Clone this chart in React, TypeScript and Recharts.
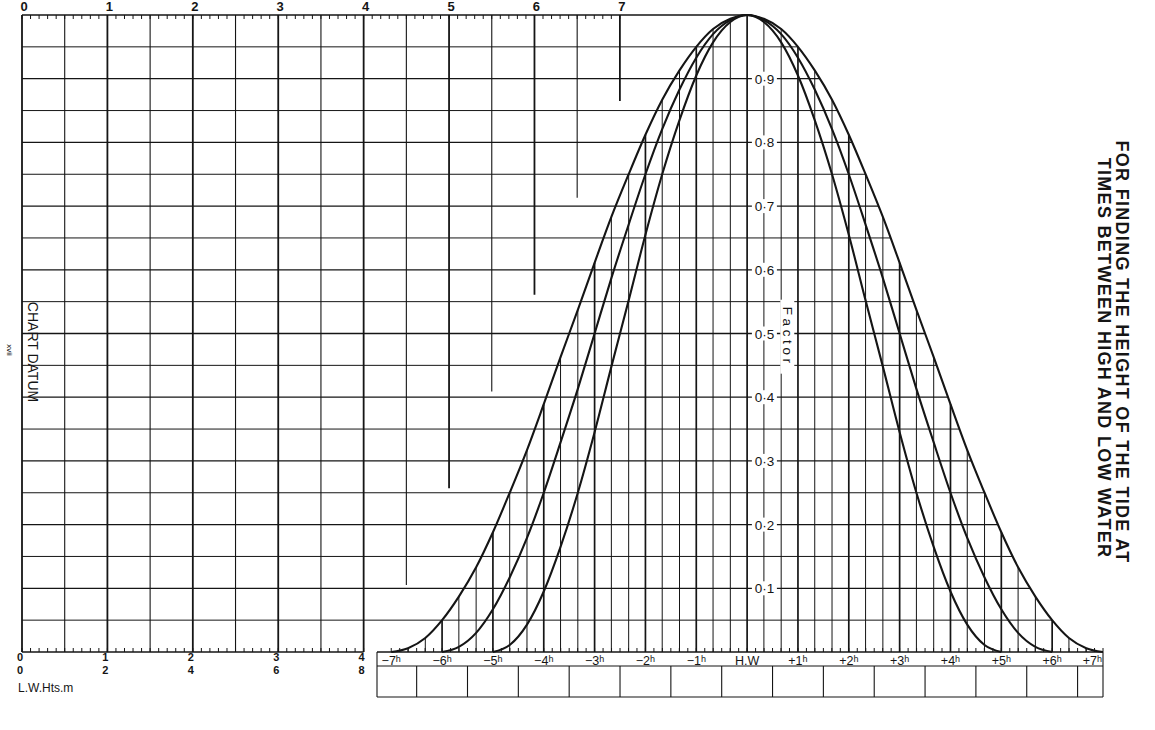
import { ComposedChart, Line, Scatter, XAxis, YAxis, ReferenceLine } from "recharts";

// hours from high water, sampled every 20 minutes
const hours = [
  -7, -6.67, -6.33, -6, -5.67, -5.33, -5, -4.67, -4.33, -4, -3.67, -3.33, -3, -2.67, -2.33, -2, -1.67, -1.33, -1, -0.67, -0.33,
  0,
  0.33, 0.67, 1, 1.33, 1.67, 2, 2.33, 2.67, 3, 3.33, 3.67, 4, 4.33, 4.67, 5, 5.33, 5.67, 6, 6.33, 6.67, 7,
];

// factor (7h, 6h and 5h duration)
const sevenHour = [
  0, 0.006, 0.022, 0.05, 0.087, 0.133, 0.188, 0.25, 0.317, 0.389, 0.463, 0.537, 0.611, 0.683, 0.75, 0.812, 0.867, 0.913, 0.95, 0.978, 0.994,
  1,
  0.994, 0.978, 0.95, 0.913, 0.867, 0.812, 0.75, 0.683, 0.611, 0.537, 0.463, 0.389, 0.317, 0.25, 0.188, 0.133, 0.087, 0.05, 0.022, 0.006, 0,
];
const sixHour = [
  null, null, null, 0, 0.008, 0.03, 0.067, 0.117, 0.179, 0.25, 0.329, 0.413, 0.5, 0.587, 0.671, 0.75, 0.821, 0.883, 0.933, 0.97, 0.992,
  1,
  0.992, 0.97, 0.933, 0.883, 0.821, 0.75, 0.671, 0.587, 0.5, 0.413, 0.329, 0.25, 0.179, 0.117, 0.067, 0.03, 0.008, 0, null, null, null,
];
const fiveHour = [
  null, null, null, null, null, null, 0, 0.011, 0.043, 0.095, 0.165, 0.25, 0.345, 0.448, 0.552, 0.655, 0.75, 0.835, 0.905, 0.957, 0.989,
  1,
  0.989, 0.957, 0.905, 0.835, 0.75, 0.655, 0.552, 0.448, 0.345, 0.25, 0.165, 0.095, 0.043, 0.011, 0, null, null, null, null, null, null,
];

const hourTicks = [-7, -6, -5, -4, -3, -2, -1, 0, 1, 2, 3, 4, 5, 6, 7];
const hourLabels = ["−7", "−6", "−5", "−4", "−3", "−2", "−1", "H.W", "+1", "+2", "+3", "+4", "+5", "+6", "+7"];
const boxDividers = [-6.5, -5.5, -4.5, -3.5, -2.5, -1.5, -0.5, 0.5, 1.5, 2.5, 3.5, 4.5, 5.5, 6.5];

const factorLevels = [0.1, 0.2, 0.3, 0.4, 0.5, 0.6, 0.7, 0.8, 0.9];
const factorLabels = ["0·1", "0·2", "0·3", "0·4", "0·5", "0·6", "0·7", "0·8", "0·9"];
const gridLevels = [0.05, 0.1, 0.15, 0.2, 0.25, 0.3, 0.35, 0.4, 0.45, 0.5, 0.55, 0.6, 0.65, 0.7, 0.75, 0.8, 0.85, 0.9, 0.95];

// left panel: heights scale
const topScale = [0, 1, 2, 3, 4, 5, 6, 7];
const lwHeights = [0, 1, 2, 3, 4];
const lwSecondRow = ["0", "2", "4", "6", "8"];
const fullVerticals = [0, 0.5, 1, 1.5, 2, 2.5, 3, 3.5, 4];
const stepVerticals = [4.5, 5, 5.5, 6, 6.5, 7];
const stepDepths = [0.105, 0.257, 0.409, 0.561, 0.713, 0.865];

const INK = "#151515";
const SANS = "'Liberation Sans', Arial, Helvetica, sans-serif";
const W = 1155;
const H = 730;
const tMin = -7.28;
const tMax = 7;

const tideRows = hours.map((t, i) => ({ t, seven: sevenHour[i], six: sixHour[i], five: fiveHour[i] }));
const stepRows = stepVerticals.map((h, i) => ({ h, depth: stepDepths[i] }));
const factorRows = factorLevels.map((f, i) => ({ t: 0.33, f, text: factorLabels[i] }));
const factorWordRow = [{ t: 0.79, f: 0.495, text: "Factor" }];

const topMinor = Array.from({ length: 71 }, (_, k) => k / 10);
const lwMinor = Array.from({ length: 41 }, (_, k) => k / 10);
const tenMinute = Array.from({ length: 85 }, (_, k) => -7 + k / 6);
const boxTicks = [tMin, ...boxDividers, tMax];

const isWhole = (v: number) => Math.abs(v - Math.round(v)) < 1e-6;
const isTenth = (v: number) => Math.round(v * 100) % 10 === 0;

// where the falling side of the 7h curve drops through a grid level
function fallCrossing(level: number): number {
  for (let i = hours.indexOf(0); i < hours.length - 1; i++) {
    const a = sevenHour[i];
    const b = sevenHour[i + 1];
    if (a >= level && b <= level) return hours[i] + ((a - level) / (a - b)) * (hours[i + 1] - hours[i]);
  }
  return 0;
}

function TopScaleTick(props: any) {
  const { x, y, payload } = props;
  const v = payload.value;
  const idx = isWhole(v) ? topScale.indexOf(Math.round(v)) : -1;
  return (
    <g>
      <line x1={x} x2={x} y1={y} y2={y + 4} stroke={INK} strokeWidth={1} />
      {idx >= 0 && (
        <text x={x + 2} y={y - 4} textAnchor="middle" fontSize={13} fontWeight="bold" fill={INK} fontFamily={SANS}>
          {topScale[idx]}
        </text>
      )}
    </g>
  );
}

function LowWaterTick(props: any) {
  const { x, y, payload } = props;
  const v = payload.value;
  const idx = isWhole(v) ? lwHeights.indexOf(Math.round(v)) : -1;
  return (
    <g>
      <line x1={x} x2={x} y1={y} y2={y - 4} stroke={INK} strokeWidth={1} />
      {idx >= 0 && (
        <text fontSize={11} fontWeight="bold" fill={INK} fontFamily={SANS} textAnchor="middle">
          <tspan x={x - 2} y={y + 9}>
            {lwHeights[idx]}
          </tspan>
          <tspan x={x - 2} dy={12.5}>
            {lwSecondRow[idx]}
          </tspan>
        </text>
      )}
    </g>
  );
}

function HourTick(props: any) {
  const { x, y, payload } = props;
  const v = payload.value;
  const idx = isWhole(v) ? hourTicks.indexOf(Math.round(v)) : -1;
  const last = idx === hourTicks.length - 1;
  return (
    <g>
      <line x1={x} x2={x} y1={y} y2={y - 4} stroke={INK} strokeWidth={1} />
      {idx >= 0 && (
        <text
          x={last ? x - 1 : x}
          y={y + 13}
          textAnchor={last ? "end" : "middle"}
          fontSize={12.5}
          fill={INK}
          fontFamily={SANS}
        >
          {hourLabels[idx]}
          {hourTicks[idx] !== 0 && (
            <tspan fontSize={9} dy={-3}>
              h
            </tspan>
          )}
        </text>
      )}
    </g>
  );
}

function BoxTick(props: any) {
  const { x, y, payload } = props;
  const edge = payload.value === tMin || payload.value === tMax;
  return <line x1={x} x2={x} y1={edge ? y - 14 : y} y2={y + 31} stroke={INK} strokeWidth={1.1} />;
}

function FactorTag(p: any) {
  return (
    <g>
      <rect x={p.cx - 12} y={p.cy - 7} width={25} height={14} fill="#fff" />
      <text x={p.cx + 0.5} y={p.cy + 5} textAnchor="middle" fontSize={13.5} fill={INK} fontFamily={SANS}>
        {p.payload.text}
      </text>
    </g>
  );
}

function FactorWord(p: any) {
  return (
    <g>
      <rect x={p.cx - 7} y={p.cy - 37} width={14} height={74} fill="#fff" />
      <text
        x={p.cx}
        y={p.cy}
        transform={`rotate(90 ${p.cx} ${p.cy})`}
        textAnchor="middle"
        dominantBaseline="central"
        fontSize={13.5}
        letterSpacing={3.6}
        fill={INK}
        fontFamily={SANS}
      >
        {p.payload.text}
      </text>
    </g>
  );
}

function HeightPanel() {
  return (
    <ComposedChart width={760} height={H} data={stepRows} margin={{ top: 0, right: 12, bottom: 0, left: 22 }}>
      <XAxis
        xAxisId="top"
        orientation="top"
        dataKey="h"
        type="number"
        domain={[0, 8.5]}
        allowDataOverflow
        ticks={topMinor}
        interval={0}
        height={15}
        tick={TopScaleTick}
        tickLine={false}
        tickSize={0}
        tickMargin={0}
        axisLine={{ stroke: INK, strokeWidth: 1.5 }}
      />
      <XAxis
        dataKey="h"
        type="number"
        domain={[0, 8.5]}
        allowDataOverflow
        ticks={lwMinor}
        interval={0}
        height={78}
        tick={LowWaterTick}
        tickLine={false}
        tickSize={0}
        tickMargin={0}
        axisLine={false}
      />
      <YAxis type="number" domain={[0, 1]} allowDataOverflow hide />
      {gridLevels.map((v) => (
        <ReferenceLine key={`h${v}`} y={v} stroke={INK} strokeWidth={isTenth(v) ? 1.3 : 1} />
      ))}
      <ReferenceLine segment={[{ x: 0, y: 0 }, { x: 4, y: 0 }]} stroke={INK} strokeWidth={1.5} />
      {fullVerticals.map((v) => (
        <ReferenceLine key={`v${v}`} x={v} stroke={INK} strokeWidth={isWhole(v) ? 1.8 : 1.1} />
      ))}
      {stepRows.map((r) => (
        <ReferenceLine
          key={`s${r.h}`}
          segment={[{ x: r.h, y: r.depth }, { x: r.h, y: 1 }]}
          stroke={INK}
          strokeWidth={isWhole(r.h) ? 1.8 : 1.1}
        />
      ))}
    </ComposedChart>
  );
}

function TidePanel() {
  return (
    <ComposedChart width={W} height={H} data={tideRows} margin={{ top: 15, right: 52, bottom: 32, left: 377 }}>
      <XAxis
        dataKey="t"
        type="number"
        domain={[tMin, tMax]}
        allowDataOverflow
        ticks={tenMinute}
        interval={0}
        height={14}
        tick={HourTick}
        tickLine={false}
        tickSize={0}
        tickMargin={0}
        axisLine={{ stroke: INK, strokeWidth: 1.4 }}
      />
      <XAxis
        xAxisId="box"
        dataKey="t"
        type="number"
        domain={[tMin, tMax]}
        allowDataOverflow
        ticks={boxTicks}
        interval={0}
        height={31}
        tick={BoxTick}
        tickLine={false}
        tickSize={0}
        tickMargin={0}
        axisLine={{ stroke: INK, strokeWidth: 1.1 }}
      />
      <XAxis
        xAxisId="boxEnd"
        dataKey="t"
        type="number"
        domain={[tMin, tMax]}
        allowDataOverflow
        height={1}
        tick={false}
        tickLine={false}
        axisLine={{ stroke: INK, strokeWidth: 1.1 }}
      />
      <YAxis type="number" domain={[0, 1]} hide />
      {hours.map((t, i) =>
        sevenHour[i] > 0 ? (
          <ReferenceLine
            key={`tv${t}`}
            segment={[{ x: t, y: 0 }, { x: t, y: sevenHour[i] }]}
            stroke={INK}
            strokeWidth={isWhole(t) ? 1.7 : 1}
          />
        ) : null
      )}
      {gridLevels.map((v) => (
        <ReferenceLine
          key={`th${v}`}
          segment={[{ x: 0, y: v }, { x: fallCrossing(v), y: v }]}
          stroke={INK}
          strokeWidth={isTenth(v) ? 1.3 : 1}
        />
      ))}
      <Line dataKey="seven" type="monotone" stroke={INK} strokeWidth={2.1} dot={false} isAnimationActive={false} />
      <Line dataKey="six" type="monotone" stroke={INK} strokeWidth={2.1} dot={false} isAnimationActive={false} />
      <Line dataKey="five" type="monotone" stroke={INK} strokeWidth={2.1} dot={false} isAnimationActive={false} />
    </ComposedChart>
  );
}

function LabelLayer() {
  return (
    <ComposedChart width={W} height={H} margin={{ top: 15, right: 52, bottom: 78, left: 377 }}>
      <XAxis dataKey="t" type="number" domain={[tMin, tMax]} allowDataOverflow hide />
      <YAxis dataKey="f" type="number" domain={[0, 1]} allowDataOverflow hide />
      <Scatter data={factorRows} dataKey="f" shape={FactorTag} isAnimationActive={false} />
      <Scatter data={factorWordRow} dataKey="f" shape={FactorWord} isAnimationActive={false} />
    </ComposedChart>
  );
}

export default function App() {
  const layer: React.CSSProperties = { position: "absolute", left: 0, top: 0 };
  return (
    <div style={{ position: "absolute", left: 0, top: 0, width: W, height: H, background: "#fff" }}>
      <div style={layer}>
        <HeightPanel />
      </div>
      <div style={layer}>
        <TidePanel />
      </div>
      <div style={layer}>
        <LabelLayer />
      </div>
      <svg style={{ ...layer, pointerEvents: "none" }} width={W} height={H} fontFamily={SANS} fill={INK}>
        <text x={28} y={352} transform="rotate(90 28 352)" textAnchor="middle" fontSize={14}>
          CHART DATUM
        </text>
        <text x={7} y={350} transform="rotate(90 7 350)" textAnchor="middle" fontSize={8}>
          xvii
        </text>
        <text x={18} y={692} fontSize={12}>
          L.W.Hts.m
        </text>
        <text x={1116} y={352} transform="rotate(90 1116 352)" textAnchor="middle" fontSize={18} fontWeight="bold" letterSpacing={1.3}>
          FOR FINDING THE HEIGHT OF THE TIDE AT
        </text>
        <text x={1098} y={358} transform="rotate(90 1098 358)" textAnchor="middle" fontSize={18} fontWeight="bold" letterSpacing={1.3}>
          TIMES BETWEEN HIGH AND LOW WATER
        </text>
      </svg>
    </div>
  );
}
